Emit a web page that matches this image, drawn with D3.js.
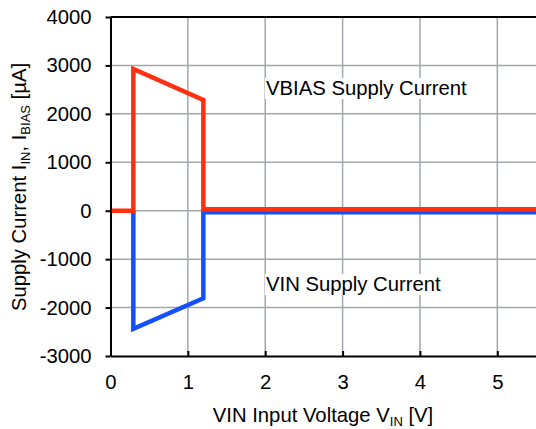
<!DOCTYPE html>
<html>
<head>
<meta charset="utf-8">
<script src="https://cdn.jsdelivr.net/npm/d3@7"></script>
<style>
  html, body { margin: 0; padding: 0; background: #fff; }
  svg { display: block; font-family: "Liberation Sans", Arial, sans-serif; }
</style>
</head>
<body>
<svg id="chart" width="536" height="429"></svg>
<script>
// Supply current vs. VIN input voltage
const xTicks = [0, 1, 2, 3, 4, 5];
const yTicks = [-3000, -2000, -1000, 0, 1000, 2000, 3000, 4000];

// VBIAS supply current (µA)
const vbiasX = [0, 0.295, 0.295, 1.2, 1.2, 5.5];
const vbiasY = [0, 0, 2925, 2285, 30, 30];

// VIN supply current (µA)
const vinX = [0.295, 0.295, 1.2, 1.2, 5.5];
const vinY = [0, -2440, -1810, -30, -30];

const labels = [
  { text: "VBIAS Supply Current", x: 2.01, y: 2390 },
  { text: "VIN Supply Current", x: 2.01, y: -1660 }
];

const svg = d3.select("#chart");
const plotLeft = 110.5, plotRight = 536, plotTop = 17, plotBottom = 356;

const x = d3.scaleLinear().domain([0, 5.5]).range([plotLeft, plotRight]);
const y = d3.scaleLinear().domain([-3000, 4000]).range([plotBottom, plotTop]);

const gridColor = "#a3a7ab";
const fontSize = 20.3;

// grid
svg.append("g").selectAll("line")
  .data(xTicks.filter(d => d > 0))
  .join("line")
  .attr("x1", d => x(d)).attr("x2", d => x(d))
  .attr("y1", plotTop).attr("y2", plotBottom)
  .attr("stroke", gridColor).attr("stroke-width", 1.5);

svg.append("g").selectAll("line")
  .data(yTicks.filter(d => d > -3000 && d < 4000))
  .join("line")
  .attr("x1", plotLeft).attr("x2", plotRight)
  .attr("y1", d => y(d)).attr("y2", d => y(d))
  .attr("stroke", gridColor).attr("stroke-width", 1.5);

// series labels on white boxes
const labelG = svg.append("g");
labels.forEach(l => {
  const t = labelG.append("text")
    .attr("x", x(l.x)).attr("y", y(l.y))
    .attr("font-size", fontSize).attr("fill", "#000")
    .text(l.text);
  const bb = t.node().getBBox();
  labelG.insert("rect", "text")
    .attr("x", bb.x - 1).attr("y", bb.y + 1)
    .attr("width", bb.width + 3).attr("height", bb.height - 1)
    .attr("fill", "#fff");
});

// series
const line = d3.line().x(d => x(d[0])).y(d => y(d[1]));
const vinPts = vinX.map((v, i) => [v, vinY[i]]);
const vbiasPts = vbiasX.map((v, i) => [v, vbiasY[i]]);

svg.append("path").datum(vinPts)
  .attr("d", line).attr("fill", "none")
  .attr("stroke", "#1450ff").attr("stroke-width", 4.5)
  .attr("stroke-linejoin", "miter");

svg.append("path").datum(vbiasPts)
  .attr("d", line).attr("fill", "none")
  .attr("stroke", "#ff3010").attr("stroke-width", 4.5)
  .attr("stroke-linejoin", "miter");

// top frame line
svg.append("line")
  .attr("x1", plotLeft).attr("x2", plotRight).attr("y1", y(4000)).attr("y2", y(4000))
  .attr("stroke", "#000").attr("stroke-width", 2);

// axes
const yAxis = d3.axisLeft(y).tickValues(yTicks).tickSize(5).tickSizeOuter(0).tickPadding(14)
  .tickFormat(d3.format("d"));
const gy = svg.append("g").attr("transform", `translate(${plotLeft},0)`).call(yAxis);
gy.select(".domain").attr("stroke", "#000").attr("stroke-width", 2);
gy.selectAll(".tick line").attr("stroke", "#000").attr("stroke-width", 2);
gy.selectAll(".tick text").attr("font-size", fontSize).attr("fill", "#000")
  .attr("font-family", "Liberation Sans, Arial, sans-serif")
  .text(d => d < 0 ? "-" + Math.abs(d) : d);

const xAxis = d3.axisBottom(x).tickValues(xTicks).tickSize(-5).tickSizeOuter(0).tickPadding(19)
  .tickFormat(d3.format("d"));
const gx = svg.append("g").attr("transform", `translate(0,${plotBottom})`).call(xAxis);
gx.select(".domain").attr("stroke", "#000").attr("stroke-width", 2);
gx.selectAll(".tick line").attr("stroke", "#000").attr("stroke-width", 2);
gx.selectAll(".tick text").attr("font-size", fontSize).attr("fill", "#000")
  .attr("font-family", "Liberation Sans, Arial, sans-serif");

// axis titles
const xt = svg.append("text")
  .attr("x", 323).attr("y", 422)
  .attr("text-anchor", "middle").attr("font-size", fontSize).attr("fill", "#000");
xt.append("tspan").text("VIN Input Voltage V");
xt.append("tspan").attr("font-size", 13).attr("dy", 4).text("IN");
xt.append("tspan").attr("dy", -4).text(" [V]");

const yt = svg.append("text")
  .attr("transform", "translate(26,187) rotate(-90)")
  .attr("text-anchor", "middle").attr("font-size", fontSize).attr("fill", "#000");
yt.append("tspan").text("Supply Current I");
yt.append("tspan").attr("font-size", 13).attr("dy", 4).text("IN");
yt.append("tspan").attr("dy", -4).text(", I");
yt.append("tspan").attr("font-size", 13).attr("dy", 4).text("BIAS");
yt.append("tspan").attr("dy", -4).text(" [µA]");
</script>
</body>
</html>
